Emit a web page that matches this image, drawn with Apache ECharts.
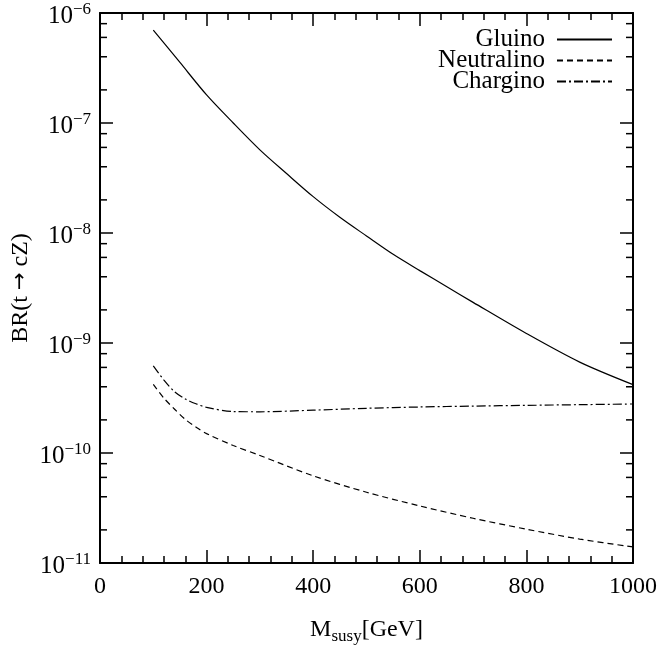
<!DOCTYPE html>
<html>
<head>
<meta charset="utf-8">
<script src="https://cdn.jsdelivr.net/npm/echarts@6/dist/echarts.min.js"></script>
<style>
html,body{margin:0;padding:0;background:#fff;}
#chart{width:660px;height:645px;}
</style>
</head>
<body>
<div id="chart"></div>
<script>
// ---- data ----
const gluinoM      = [100, 150, 200, 250, 300, 350, 400, 450, 500, 550, 600, 650, 700, 800, 900, 1000];
const gluinoBR     = [7.0e-7, 3.55e-7, 1.8e-7, 1.0e-7, 5.7e-8, 3.47e-8, 2.14e-8, 1.39e-8, 9.4e-9, 6.4e-9, 4.55e-9, 3.26e-9, 2.34e-9, 1.22e-9, 6.7e-10, 4.18e-10];

const neutralinoM  = [100, 120, 140, 160, 180, 200, 250, 300, 400, 500, 600, 700, 800, 900, 1000];
const neutralinoBR = [4.2e-10, 3.15e-10, 2.5e-10, 2.02e-10, 1.72e-10, 1.5e-10, 1.17e-10, 9.5e-11, 6.2e-11, 4.4e-11, 3.3e-11, 2.55e-11, 2.03e-11, 1.65e-11, 1.4e-11];

const charginoM    = [100, 120, 140, 160, 180, 200, 250, 300, 400, 500, 600, 700, 800, 900, 1000];
const charginoBR   = [6.2e-10, 4.6e-10, 3.6e-10, 3.1e-10, 2.8e-10, 2.6e-10, 2.38e-10, 2.37e-10, 2.45e-10, 2.55e-10, 2.62e-10, 2.67e-10, 2.71e-10, 2.75e-10, 2.79e-10];

const xTicks = [0, 200, 400, 600, 800, 1000];
const yMin = 1e-11, yMax = 1e-6;
const yMinorMantissas = [2, 4, 6, 8];

const seriesNames = ['Gluino', 'Neutralino', 'Chargino'];

// minor tick values for log axis (2,4,6,8 in each decade)
const yMinorTicks = [];
for (let e = -11; e < -6; e++) {
  yMinorMantissas.forEach(m => yMinorTicks.push([0, m * Math.pow(10, e)]));
}

const pair = (xs, ys) => xs.map((x, i) => [x, ys[i]]);
const FONT = 'Liberation Serif';
const AXIS_COLOR = '#000';

const chart = echarts.init(document.getElementById('chart'), null, {renderer: 'canvas'});

const commonX = {
  type: 'value', min: xTicks[0], max: xTicks[xTicks.length - 1], interval: xTicks[1] - xTicks[0],
  axisLine: {show: true, onZero: false, lineStyle: {color: AXIS_COLOR, width: 2}},
  axisTick: {show: true, inside: true, length: 13, lineStyle: {color: AXIS_COLOR, width: 1.5}},
  minorTick: {show: true, splitNumber: 5, length: 7, lineStyle: {color: AXIS_COLOR, width: 1.5}},
  splitLine: {show: false},
  minorSplitLine: {show: false}
};
const commonY = {
  type: 'log', logBase: 10, min: yMin, max: yMax, splitNumber: 5,
  axisLine: {show: true, onZero: false, lineStyle: {color: AXIS_COLOR, width: 2}},
  axisTick: {show: true, inside: true, length: 13, lineStyle: {color: AXIS_COLOR, width: 1.5}},
  splitLine: {show: false}
};

const option = {
  animation: false,
  backgroundColor: '#fff',
  grid: {left: 100, right: 27, top: 13, bottom: 82, containLabel: false, outerBoundsMode: 'none'},
  legend: {
    data: seriesNames,
    orient: 'vertical',
    right: 42, top: 22,
    align: 'right',
    itemWidth: 55, itemHeight: 2,
    itemGap: -4,
    itemStyle: {opacity: 0},
    textStyle: {fontFamily: FONT, fontSize: 25, color: '#000', padding: [0, 7, 0, 0]}
  },
  xAxis: [
    Object.assign({}, commonX, {
      position: 'bottom',
      axisLabel: {show: true, margin: 12, fontFamily: FONT, fontSize: 24, color: '#000', formatter: v => String(v)},
      name: '{m|M}{sub|susy}{m|[GeV]}',
      nameLocation: 'middle',
      nameGap: 52,
      nameTextStyle: {
        rich: {
          m: {fontFamily: FONT, fontSize: 24, color: '#000', lineHeight: 30, verticalAlign: 'middle'},
          sub: {fontFamily: FONT, fontSize: 17, color: '#000', verticalAlign: 'bottom'}
        }
      }
    }),
    Object.assign({}, commonX, {
      position: 'top',
      axisLabel: {show: false}
    })
  ],
  yAxis: [
    Object.assign({}, commonY, {
      position: 'left',
      axisLabel: {
        show: true, margin: 9,
        padding: [6, 0, 0, 0],
        formatter: v => {
          const e = Math.round(Math.log10(v));
          return '{b|10}{s|\u2212' + (-e) + '}';
        },
        rich: {
          b: {fontFamily: FONT, fontSize: 25, color: '#000', lineHeight: 30, verticalAlign: 'middle'},
          s: {fontFamily: FONT, fontSize: 17, color: '#000', verticalAlign: 'top'}
        }
      },
      name: '{t|BR(t }{a|\u2192}{t| cZ)}',
      nameLocation: 'middle',
      nameRotate: 90,
      nameGap: 67,
      nameMoveOverlap: false,
      nameTextStyle: {
        rich: {
          t: {fontFamily: FONT, fontSize: 24, color: '#000'},
          a: {fontFamily: 'DejaVu Sans', fontSize: 21, color: '#000'}
        }
      }
    }),
    Object.assign({}, commonY, {
      position: 'right',
      axisLabel: {show: false}
    })
  ],
  series: [
    {
      name: 'Gluino', type: 'line', data: pair(gluinoM, gluinoBR),
      showSymbol: false, symbol: 'none', smooth: 0.3,
      lineStyle: {color: '#000', width: 1.2, type: 'solid'},
      itemStyle: {color: '#000'}
    },
    {
      name: 'Neutralino', type: 'line', data: pair(neutralinoM, neutralinoBR),
      showSymbol: false, symbol: 'none', smooth: 0.3,
      lineStyle: {color: '#000', width: 1.2, type: [6, 4]},
      itemStyle: {color: '#000'}
    },
    {
      name: 'Chargino', type: 'line', data: pair(charginoM, charginoBR),
      showSymbol: false, symbol: 'none', smooth: 0.3,
      lineStyle: {color: '#000', width: 1.2, type: [9, 3, 2, 3]},
      itemStyle: {color: '#000'}
    },
    {
      name: 'yMinorTicks', type: 'custom',
      data: yMinorTicks,
      silent: true,
      renderItem: (params, api) => {
        const cs = params.coordSys;
        const y = api.coord([0, api.value(1)])[1];
        const style = {stroke: AXIS_COLOR, lineWidth: 1.5};
        return {
          type: 'group',
          children: [
            {type: 'line', shape: {x1: cs.x, y1: y, x2: cs.x + 7, y2: y}, style: style},
            {type: 'line', shape: {x1: cs.x + cs.width, y1: y, x2: cs.x + cs.width - 7, y2: y}, style: style}
          ]
        };
      }
    }
  ]
};

chart.setOption(option);
</script>
</body>
</html>
